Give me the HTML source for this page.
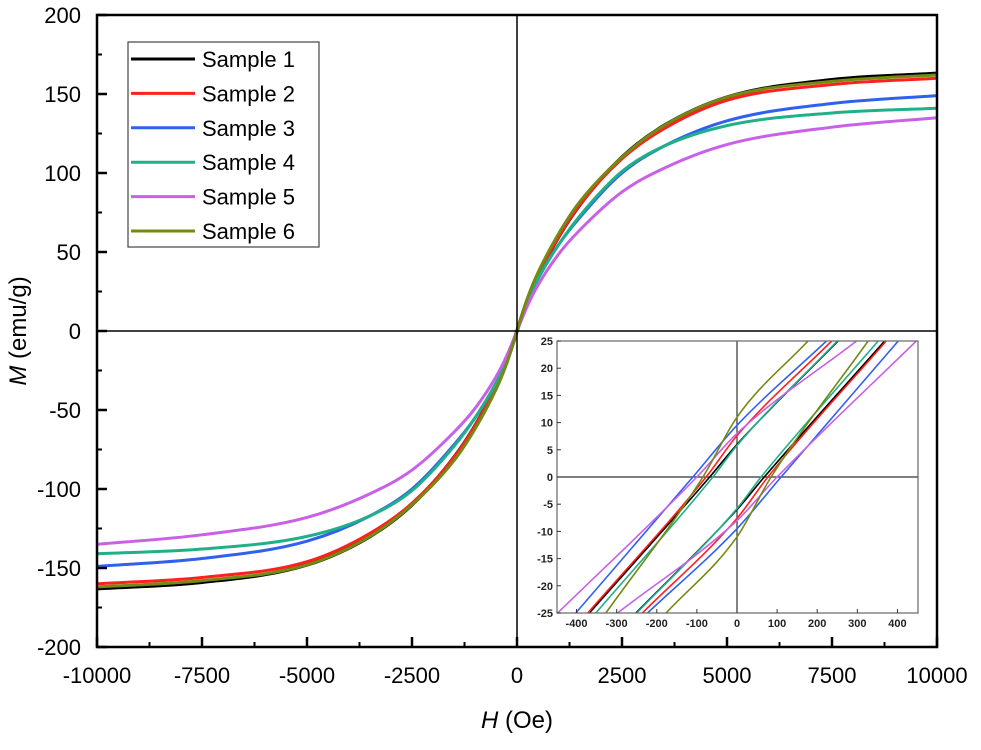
<!DOCTYPE html>
<html><head><meta charset="utf-8"><style>
body{margin:0;background:#fff}
svg{display:block;font-family:"Liberation Sans",Arial,sans-serif}
</style></head><body>
<svg id="chart" width="981" height="750" viewBox="0 0 981 750">
<g id="main"></g>
<g id="inset"></g>
</svg>
<script>
// ---- main chart data ----
const sampleNames = ["Sample 1","Sample 2","Sample 3","Sample 4","Sample 5","Sample 6"];
const sampleColors = ["#000000","#ff2020","#3060f0","#20b088","#c860e8","#748a10"];
const fieldH = [0,250,500,1000,1500,2500,3500,5000,7500,10000];
const mS1 = [0,20,35,60,80,110,130,148,159,163];
const mS2 = [0,20,35,60,80,109,128,146,156,160];
const mS3 = [0,19,33,55,72,100,117,133,144,149];
const mS4 = [0,19,33,55,73,101,117,130,138,141];
const mS5 = [0,16,29,49,64,88,103,118,129,135];
const mS6 = [0,21,37,62,82,110,130,148,158,162];
const xTicks = [-10000,-7500,-5000,-2500,0,2500,5000,7500,10000];
const yTicks = [-200,-150,-100,-50,0,50,100,150,200];
// ---- inset data (descending branch; ascending branch is its mirror) ----
const insetH1 = [-368,-68,0,252];  const insetM1 = [-25,0,6,25];
const insetH2 = [-372,-77,0,236];  const insetM2 = [-25,0,7.6,25];
const insetH3 = [-402,-110,0,223]; const insetM3 = [-25,0,9.5,25];
const insetH4 = [-352,-60,0,250];  const insetM4 = [-25,0,5.8,25];
const insetH5 = [-447,-100,0,298]; const insetM5 = [-25,0,8,25];
const insetH6 = [-327,-85,0,177];  const insetM6 = [-25,0,11,25];
const insetXTicks = [-400,-300,-200,-100,0,100,200,300,400];
const insetYTicks = [-25,-20,-15,-10,-5,0,5,10,15,20,25];

const NS="http://www.w3.org/2000/svg";
function mk(tag,attrs,parent){const e=document.createElementNS(NS,tag);for(const k in attrs)e.setAttribute(k,attrs[k]);parent.appendChild(e);return e;}

// monotone cubic path
function smoothPath(px,py){
  const n=px.length;const d=[],m=[];
  for(let i=0;i<n-1;i++)d.push((py[i+1]-py[i])/(px[i+1]-px[i]));
  m.push(d[0]);for(let i=1;i<n-1;i++){m.push(d[i-1]*d[i]<=0?0:(d[i-1]+d[i])/2);}m.push(d[n-2]);
  let s="M"+px[0].toFixed(2)+","+py[0].toFixed(2);
  for(let i=0;i<n-1;i++){const h=px[i+1]-px[i];
    s+=" C"+(px[i]+h/3).toFixed(2)+","+(py[i]+m[i]*h/3).toFixed(2)+" "+(px[i+1]-h/3).toFixed(2)+","+(py[i+1]-m[i+1]*h/3).toFixed(2)+" "+px[i+1].toFixed(2)+","+py[i+1].toFixed(2);}
  return s;
}

// ---- main axes ----
const L=97,R=937,T=15,B=647;
const xS=h=>517+h*(R-L)/20000;
const yS=v=>331-v*(B-T)/400;
const main=document.getElementById('main');

const mainSeries=[mS1,mS2,mS3,mS4,mS5,mS6];
mainSeries.forEach((arr,i)=>{
  const hs=[],ms=[];
  for(let j=fieldH.length-1;j>=1;j--){hs.push(-fieldH[j]);ms.push(-arr[j]);}
  for(let j=0;j<fieldH.length;j++){hs.push(fieldH[j]);ms.push(arr[j]);}
  const p=mk('path',{d:smoothPath(hs.map(xS),ms.map(yS)),fill:'none',stroke:sampleColors[i],'stroke-width':i==0?3.6:3},main);
  
  
});

let z=mk('line',{x1:xS(0),x2:xS(0),y1:T,y2:B,stroke:'#000','stroke-width':1.5},main);

z=mk('line',{x1:L,x2:R,y1:yS(0),y2:yS(0),stroke:'#000','stroke-width':1.5},main);


const fr=mk('rect',{x:L,y:T,width:R-L,height:B-T,fill:'none',stroke:'#000','stroke-width':2.5},main);


xTicks.forEach((t,i)=>{
  const x=xS(t);
  const tk=mk('line',{x1:x,x2:x,y1:B,y2:B-10,stroke:'#000','stroke-width':2.5},main);
  
  if(i<xTicks.length-1){const xm=xS(t+1250);mk('line',{x1:xm,x2:xm,y1:B,y2:B-5,stroke:'#000','stroke-width':2},main);}
  const tx=mk('text',{x:x,y:683,'font-size':22,'text-anchor':'middle',fill:'#000'},main);
  tx.textContent=t;
  
});
yTicks.forEach((t,i)=>{
  const y=yS(t);
  const tk=mk('line',{x1:L,x2:L+10,y1:y,y2:y,stroke:'#000','stroke-width':2.5},main);
  
  if(i<yTicks.length-1){const ym=yS(t+25);mk('line',{x1:L,x2:L+5,y1:ym,y2:ym,stroke:'#000','stroke-width':2},main);}
  const tx=mk('text',{x:81,y:y+8,'font-size':22,'text-anchor':'end',fill:'#000'},main);
  tx.textContent=t;
  
});

let at=mk('text',{x:517,y:728,'font-size':24,'text-anchor':'middle'},main);
at.innerHTML='<tspan font-style="italic">H</tspan> (Oe)';

at=mk('text',{x:0,y:0,'font-size':24,'text-anchor':'middle',transform:'translate(26,331) rotate(-90)'},main);
at.innerHTML='<tspan font-style="italic">M</tspan> (emu/g)';


const lg=mk('g',{},main);

mk('rect',{x:128,y:42,width:191,height:205,fill:'#fff',stroke:'#444','stroke-width':1.2},lg);
sampleNames.forEach((n,i)=>{
  const y=59+i*34.4;
  const e=mk('g',{},lg);
  
  
  mk('line',{x1:131,x2:195,y1:y,y2:y,stroke:sampleColors[i],'stroke-width':3},e);
  const t=mk('text',{x:202,y:y+8,'font-size':22,fill:'#000'},e);t.textContent=n;
});

// ---- inset ----
const inset=document.getElementById('inset');

const iL=557,iR=918,iT=341,iB=613;
const ixS=h=>737+h*(iR-iL)/900;
const iyS=v=>(iT+iB)/2-v*(iB-iT)/50;
mk('rect',{x:iL,y:iT,width:iR-iL,height:iB-iT,fill:'#fff',stroke:'none'},inset);
const defs=mk('defs',{},inset);
const cp=mk('clipPath',{id:'ic'},defs);
mk('rect',{x:iL,y:iT,width:iR-iL,height:iB-iT},cp);
const ig=mk('g',{'clip-path':'url(#ic)'},inset);
mk('line',{x1:ixS(0),x2:ixS(0),y1:iT,y2:iB,stroke:'#333','stroke-width':1.2},ig);
mk('line',{x1:iL,x2:iR,y1:iyS(0),y2:iyS(0),stroke:'#333','stroke-width':1.2},ig);
const iH=[insetH1,insetH2,insetH3,insetH4,insetH5,insetH6];
const iM=[insetM1,insetM2,insetM3,insetM4,insetM5,insetM6];
iH.forEach((hs,i)=>{
  const ms=iM[i];
  const p1=mk('path',{d:smoothPath(hs.map(ixS),ms.map(iyS)),fill:'none',stroke:sampleColors[i],'stroke-width':1.6},ig);
  
  
  const h2=hs.map(h=>-h).reverse(),m2=ms.map(m=>-m).reverse();
  const p2=mk('path',{d:smoothPath(h2.map(ixS),m2.map(iyS)),fill:'none',stroke:sampleColors[i],'stroke-width':1.6},ig);
  
  
});
mk('rect',{x:iL,y:iT,width:iR-iL,height:iB-iT,fill:'none',stroke:'#666','stroke-width':1.2},inset);
insetXTicks.forEach(t=>{
  const x=ixS(t);
  mk('line',{x1:x,x2:x,y1:iB,y2:iB-4,stroke:'#333','stroke-width':1},inset);
  const tx=mk('text',{x:x,y:iB+14,'font-size':11,'font-weight':'bold','text-anchor':'middle',fill:'#222'},inset);
  tx.textContent=t;
  
});
insetYTicks.forEach(t=>{
  const y=iyS(t);
  mk('line',{x1:iL,x2:iL+4,y1:y,y2:y,stroke:'#333','stroke-width':1},inset);
  const tx=mk('text',{x:iL-4,y:y+4,'font-size':11,'font-weight':'bold','text-anchor':'end',fill:'#222'},inset);
  tx.textContent=t;
  
});
</script>
</body></html>
